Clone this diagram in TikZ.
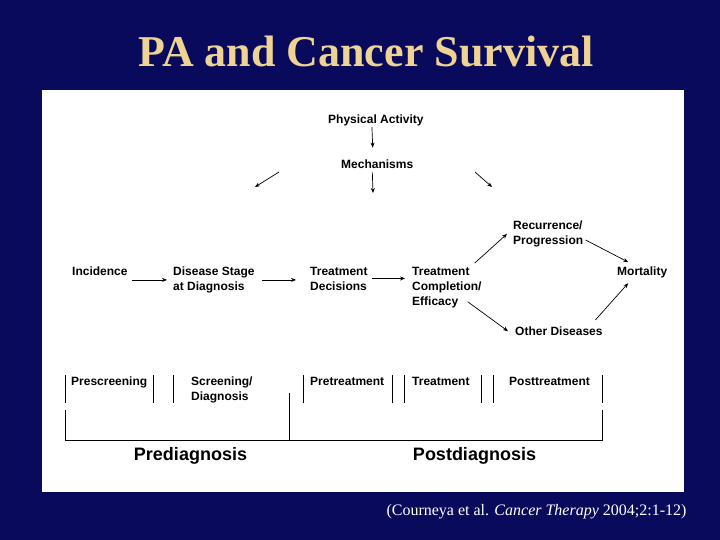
\documentclass[tikz,border=0pt]{standalone}
\usepackage{fontspec}
\setmainfont{Liberation Serif}
\setsansfont{Liberation Sans}
\usetikzlibrary{calc,arrows.meta}

\definecolor{slidebg}{HTML}{0A0A5C}
\definecolor{titlecol}{HTML}{EED394}

\begin{document}
\begin{tikzpicture}[x=1pt,y=-1pt,
 lbl/.style={anchor=north west,inner sep=0pt,align=left,
  font=\sffamily\bfseries\fontsize{12}{15}\selectfont},
 phase/.style={inner sep=0pt,font=\sffamily\bfseries\fontsize{18}{20}\selectfont},
 arr/.style={-{Stealth[length=5pt,width=4pt]},line width=0.7pt},
 bar/.style={line width=0.7pt}]

 % slide
 \fill[slidebg] (0,0) rectangle (720,540);
 \useasboundingbox (0,0) rectangle (720,540);
 \fill[white] (42,90) rectangle (684,492);
 \node[text=titlecol,inner sep=0pt,font=\bfseries\fontsize{44}{46}\selectfont]
  (title) at (366,52) {PA and Cancer Survival};
 \node[text=white,inner sep=0pt,font=\fontsize{16}{18}\selectfont]
  (cite) at (536.5,512) {(Courneya et al. \textit{Cancer Therapy} 2004;2:1-12)};

 % top part
 \node[lbl] (pa) at (328,114.6) {Physical Activity};
 \node[lbl] (mech) at (341,159.6) {Mechanisms};
 \coordinate (mechD) at (373,193);
 \coordinate (mechLa) at (279,172); \coordinate (mechLb) at (255,187);
 \coordinate (mechRa) at (475,172); \coordinate (mechRb) at (492,187);

 \draw[arr,shorten <=1pt,shorten >=12pt] ([xshift=-4pt]pa.south) -- ([xshift=-4pt]mech.north);
 \draw[arr,shorten <=3.5pt] ([xshift=-5pt]mech.south) -- (mechD);
 \draw[arr] (mechLa) -- (mechLb);
 \draw[arr] (mechRa) -- (mechRb);

 % disease course
 \node[lbl] (inc) at (72,266.6) {Incidence};
 \node[lbl] (stage) at (173,266.6) {Disease Stage\\at Diagnosis};
 \node[lbl] (dec) at (310,266.6) {Treatment\\Decisions};
 \node[lbl] (compl) at (412,266.6) {Treatment\\Completion/\\Efficacy};
 \node[lbl] (recur) at (513,220.6) {Recurrence/\\Progression};
 \node[lbl] (mort) at (617,266.6) {Mortality};
 \node[lbl] (other) at (515,326.6) {Other Diseases};

 \draw[arr,shorten <=4.5pt,shorten >=6pt] (inc.east |- stage.west) -- (stage.west);
 \draw[arr,shorten <=7.5pt,shorten >=14pt] (stage.east) -- (stage.east -| dec.west);
 \draw[arr,shorten <=4pt,shorten >=7pt] (dec.east) -- (dec.east -| compl.west);
 \draw[arr] ([xshift=-7pt,yshift=3.5pt]compl.north east) -- ([xshift=-6pt]recur.west);
 \draw[arr] ([xshift=2pt,yshift=-6pt]recur.east) -- ([xshift=-14pt,yshift=4.5pt]mort.north);
 \draw[arr] ([xshift=-14pt,yshift=6pt]compl.south east) -- ([xshift=-7pt]other.west);
 \draw[arr] ([xshift=-7.4pt,yshift=6.6pt]other.north east) -- ([xshift=-14pt,yshift=-5pt]mort.south);

 % phases
 \node[lbl] (presc) at (71,376.6) {Prescreening};
 \node[lbl] (scr) at (191,376.6) {Screening/\\Diagnosis};
 \node[lbl] (pret) at (310,376.6) {Pretreatment};
 \node[lbl] (treat) at (412,376.6) {Treatment};
 \node[lbl] (postt) at (509,376.6) {Posttreatment};

 \foreach \bx in {65,153,173,303,392,404,481,493,602}
  \draw[bar] (\bx,375) -- (\bx,403);
 \draw[bar] (65,410) -- (65,440) -- (602,440) -- (602,410);
 \draw[bar] (289,393) -- (289,440);

 \node[phase] (prediag) at (190.5,456) {Prediagnosis};
 \node[phase] (postdiag) at (474.5,456) {Postdiagnosis};

\end{tikzpicture}
\end{document}
